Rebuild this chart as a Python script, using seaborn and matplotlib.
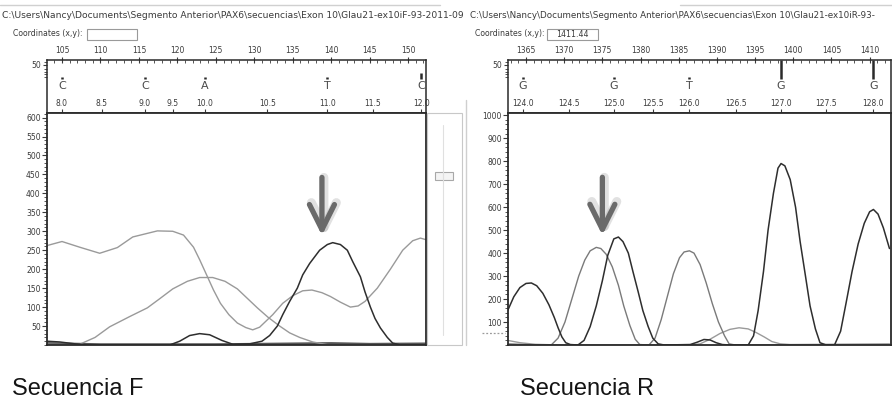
import numpy as np
import pandas as pd
import matplotlib
matplotlib.use("Agg")
import matplotlib.pyplot as plt
import seaborn as sns
from matplotlib.patches import Rectangle
from matplotlib.lines import Line2D
from matplotlib.ticker import MultipleLocator, FixedLocator

# ------------------------------------------------------------------ data
f_title = r"C:\Users\Nancy\Documents\Segmento Anterior\PAX6\secuencias\Exon 10\Glau21-ex10iF-93-2011-09"
r_title = r"C:\Users\Nancy\Documents\Segmento Anterior\PAX6\secuencias\Exon 10\Glau21-ex10iR-93-"
coord_label = "Coordinates (x,y):"
f_coord = ""
r_coord = "1411.44"
panel_labels = ["Secuencia F", "Secuencia R"]

# forward panel
f_bases = ["C", "C", "A", "T", "C"]
f_base_scan = [105.0, 115.8, 123.6, 139.5, 151.7]
f_base_mark = [37.5, 37.5, 37.5, 37.5, 42.0]
f_num_scan = [105.0, 110.2, 115.8, 119.4, 123.6, 131.7, 139.5, 145.4, 151.7]
f_num_labels = ["8.0", "8.5", "9.0", "9.5", "10.0", "10.5", "11.0", "11.5", "12.0"]

f_a_scan = [103.0, 105.0, 107.3, 109.9, 112.2, 114.2, 117.4, 119.4, 120.8, 122.1, 122.9, 123.8,
            124.7, 125.6, 126.7, 127.8, 128.9, 129.8, 130.7, 132.4, 133.7, 135.0, 136.3, 137.5,
            138.8, 139.9, 141.2, 142.5, 143.5, 144.4, 146.0, 147.7, 149.3, 150.6, 151.6, 152.3]
f_a_sig = [262, 273, 258, 242, 257, 285, 301, 300, 290, 258, 225, 185,
           145, 110, 80, 58, 46, 40, 47, 80, 110, 130, 143, 145,
           138, 128, 113, 100, 103, 115, 150, 200, 250, 275, 282, 278]

f_b_scan = [103.0, 106.0, 107.3, 109.3, 111.2, 113.8, 116.1, 117.7, 119.4, 121.3, 122.9, 124.6,
            126.2, 127.8, 129.1, 130.4, 131.8, 133.3, 134.6, 135.9, 137.6, 139.5, 141.2, 152.3]
f_b_sig = [2, 1, 2, 20, 48, 75, 98, 122, 148, 168, 178, 178,
           168, 148, 123, 98, 73, 50, 32, 20, 8, 1, 0, 0]

f_c_scan = [103.0, 104.7, 106.7, 108.6, 119.0, 120.3, 121.6, 122.9, 124.2, 125.8, 127.2, 129.4,
            131.0, 132.0, 133.0, 133.7, 134.6, 135.6, 136.3, 137.2, 138.5, 139.5, 140.2, 141.2,
            142.1, 142.8, 143.8, 144.4, 145.1, 145.7, 146.4, 147.3, 148.0, 149.0, 152.3]
f_c_sig = [10, 8, 3, 0, 0, 10, 25, 30, 27, 12, 2, 3,
           10, 25, 50, 80, 115, 150, 185, 215, 250, 265, 270, 265,
           250, 220, 180, 140, 100, 70, 45, 20, 5, 0, 0]

f_d_scan = [103.0, 110.0, 125.0, 135.0, 140.0, 145.0, 152.3]
f_d_sig = [4, 1, 1, 3, 4, 2, 3]

f_arrow = dict(scan=138.8, start=442, end=289)

# reverse panel
r_bases = ["G", "G", "T", "G", "G"]
r_base_scan = [1364.6, 1376.5, 1386.4, 1398.4, 1410.5]
r_base_mark = [37.5, 37.5, 37.5, 55.0, 55.0]
r_num_scan = [1364.6, 1370.6, 1376.5, 1381.6, 1386.4, 1392.5, 1398.4, 1404.3, 1410.5]
r_num_labels = ["124.0", "124.5", "125.0", "125.5", "126.0", "126.5", "127.0", "127.5", "128.0"]

r_k_scan = [1362.6, 1363.4, 1364.2, 1365.0, 1365.7, 1366.4, 1367.2, 1368.0, 1368.7, 1369.2,
            1369.7, 1370.2, 1370.8, 1371.8, 1372.6, 1373.4, 1374.2, 1375.0, 1375.7, 1376.5,
            1377.1, 1377.7, 1378.4, 1379.0, 1379.7, 1380.3, 1381.0, 1381.6, 1382.3, 1383.1,
            1386.5, 1387.4, 1388.3, 1389.1, 1389.9, 1390.7, 1391.7, 1394.1, 1394.8, 1395.4,
            1396.1, 1396.7, 1397.4, 1398.0, 1398.4, 1398.9, 1399.6, 1400.3, 1400.9, 1401.6,
            1402.2, 1402.9, 1403.5, 1404.3, 1405.4, 1406.2, 1406.9, 1407.7, 1408.5, 1409.3,
            1410.0, 1410.5, 1411.1, 1411.8, 1412.6]
r_k_sig = [150, 210, 250, 268, 270, 258, 225, 175, 120, 75,
           35, 10, 2, 0, 20, 80, 170, 280, 390, 462,
           470, 450, 400, 320, 230, 150, 80, 30, 5, 0,
           2, 12, 24, 22, 10, 2, 0, 0, 40, 150,
           320, 500, 660, 770, 790, 780, 720, 600, 450, 300,
           170, 70, 10, 0, 0, 60, 180, 320, 440, 530,
           580, 590, 570, 510, 420]

r_t_scan = [1362.6, 1366.8, 1368.3, 1369.2, 1370.1, 1371.0, 1371.9, 1372.7, 1373.4, 1374.2,
            1374.8, 1375.5, 1376.3, 1377.1, 1377.8, 1378.6, 1379.3, 1379.9, 1381.1, 1381.9,
            1382.7, 1383.5, 1384.3, 1385.1, 1385.7, 1386.4, 1387.0, 1387.8, 1388.6, 1389.4,
            1390.2, 1391.0, 1391.6, 1392.4, 1412.6]
r_t_sig = [5, 0, 0, 30, 100, 200, 300, 370, 410, 425,
           420, 395, 340, 260, 170, 85, 25, 2, 0, 30,
           110, 210, 310, 380, 405, 410, 400, 350, 270, 180,
           100, 40, 5, 0, 0]

r_a_scan = [1362.6, 1364.2, 1366.2, 1369.5, 1386.5, 1387.8, 1389.1, 1390.4, 1391.7, 1392.9,
            1394.1, 1395.1, 1396.2, 1397.2, 1398.3, 1399.6, 1412.6]
r_a_sig = [20, 10, 3, 0, 0, 5, 25, 50, 68, 75, 70, 55, 35, 15, 5, 2, 5]

r_arrow = dict(scan=1375.0, start=730, end=478)

# ------------------------------------------------------------------ style
sns.set_theme(style="white")
plt.rcParams["font.family"] = ["DejaVu Sans"]

W, H = 892, 400
fig = plt.figure(figsize=(W / 100, H / 100), dpi=100)
fig.patch.set_facecolor("white")


def fx(x):
    return x / W


def fy(y):
    return 1 - y / H


def add_ax(x0, y0, x1, y1):
    return fig.add_axes([x0 / W, 1 - y1 / H, (x1 - x0) / W, (y1 - y0) / H])


def frect(x0, y0, x1, y1, **kw):
    fig.add_artist(Rectangle((fx(x0), fy(y1)), (x1 - x0) / W, (y1 - y0) / H,
                             transform=fig.transFigure, **kw))


def fline(xs, ys, **kw):
    fig.add_artist(Line2D([fx(x) for x in xs], [fy(y) for y in ys],
                          transform=fig.transFigure, **kw))


TXT = "#3a3a3a"
SPINE = "#2a2a2a"


def ruler(box, xlim, major, minor, bases, base_scan, base_mark, num_scan, num_labels):
    ax = add_ax(*box)
    ax.set_xlim(*xlim)
    ax.set_ylim(0, 55)
    for s in ax.spines.values():
        s.set_color(SPINE)
        s.set_linewidth(1.1)
    ax.xaxis.set_ticks_position("top")
    ax.xaxis.set_label_position("top")
    ax.xaxis.set_major_locator(MultipleLocator(major))
    ax.xaxis.set_minor_locator(MultipleLocator(minor))
    ax.tick_params(axis="x", which="major", direction="inout", length=5, width=0.8,
                   colors=TXT, labelsize=5.5, pad=1)
    ax.tick_params(axis="x", which="minor", direction="in", length=2.5, width=0.6,
                   colors=TXT)
    ax.yaxis.set_ticks_position("left")
    ax.set_yticks([50])
    ax.set_yticklabels(["50"])
    ax.yaxis.set_minor_locator(FixedLocator([37, 40, 43, 46, 53]))
    ax.tick_params(axis="y", which="major", direction="out", length=3, width=0.8,
                   colors=TXT, labelsize=5.5, pad=1)
    ax.tick_params(axis="y", which="minor", direction="out", length=2, width=0.6,
                   colors=TXT)
    ax.set_xlabel("")
    ax.set_ylabel("")
    for b, x in zip(bases, base_scan):
        ax.text(x, 28, b, ha="center", va="center", fontsize=8, color="#4a4a4a")
    ax.vlines(base_scan, 35.5, base_mark, colors="#2a2a2a", linewidth=1.8)
    sec = ax.secondary_xaxis("bottom")
    sec.set_xticks(num_scan)
    sec.set_xticklabels(num_labels)
    sec.tick_params(axis="x", direction="in", length=3, width=0.8, colors=TXT,
                    labelsize=5.5, pad=-10)
    sec.spines["bottom"].set_visible(False)
    ax.set_facecolor("white")
    return ax


def main(box, xlim, ylim, ystep, yminor, traces, arrow):
    ax = add_ax(*box)
    for df, col, lw in traces:
        sns.lineplot(data=df, x="scan", y="signal", ax=ax, color=col, linewidth=lw,
                     estimator=None, sort=False, legend=False)
    ax.set_xlim(*xlim)
    ax.set_ylim(*ylim)
    ax.set_xticks([])
    ax.set_xlabel("")
    ax.set_ylabel("")
    ax.yaxis.set_major_locator(FixedLocator(list(range(ystep, int(ylim[1]), ystep))))
    ax.yaxis.set_minor_locator(MultipleLocator(yminor))
    ax.tick_params(axis="y", which="major", direction="out", length=3.5, width=0.8,
                   colors=TXT, labelsize=5.5, pad=1, left=True)
    ax.tick_params(axis="y", which="minor", direction="out", length=2, width=0.6,
                   colors=TXT, left=True)
    for s in ax.spines.values():
        s.set_color(SPINE)
        s.set_linewidth(1.3)
    # soft drop shadow, then the arrow itself
    ax.annotate("", xy=(arrow["scan"] + 0.25, arrow["end"] - 6),
                xytext=(arrow["scan"] + 0.25, arrow["start"]),
                arrowprops=dict(arrowstyle="->,head_length=0.9,head_width=0.45",
                                color="#aaaaaa", lw=6.5, alpha=0.35,
                                mutation_scale=20, shrinkA=0, shrinkB=0))
    ax.annotate("", xy=(arrow["scan"], arrow["end"]), xytext=(arrow["scan"], arrow["start"]),
                arrowprops=dict(arrowstyle="->,head_length=0.9,head_width=0.45",
                                color="#6a6a6a", lw=3.8, mutation_scale=20,
                                shrinkA=0, shrinkB=0))
    return ax


def frame(scan, sig):
    return pd.DataFrame({"scan": scan, "signal": sig})


LIGHT = "#9a9a9a"
MID = "#7a7a7a"
DARK = "#2e2e2e"

# ---------------- left (forward)
ruler((47, 60, 426, 113), (103.05, 152.33), 5, 1, f_bases, f_base_scan, f_base_mark,
      f_num_scan, f_num_labels)
main((47, 113, 426, 345), (103.05, 152.33), (0, 612), 50, 10,
     [(frame(f_d_scan, f_d_sig), "#555555", 2.0),
      (frame(f_a_scan, f_a_sig), LIGHT, 1.0),
      (frame(f_b_scan, f_b_sig), LIGHT, 1.0),
      (frame(f_c_scan, f_c_sig), DARK, 1.1)],
     f_arrow)

# ---------------- right (reverse)
ruler((508, 60, 891, 113), (1362.64, 1412.8), 5, 1, r_bases, r_base_scan, r_base_mark,
      r_num_scan, r_num_labels)
main((508, 113, 891, 345), (1362.64, 1412.8), (0, 1010), 100, 20,
     [(frame(r_a_scan, r_a_sig), LIGHT, 1.0),
      (frame(r_t_scan, r_t_sig), MID, 1.0),
      (frame(r_k_scan, r_k_sig), DARK, 1.1)],
     r_arrow)

# ---------------- window chrome
fline([0, 440], [5, 5], color="#d0d0d0", lw=1)
fline([680, 892], [5, 5], color="#d0d0d0", lw=1)
fig.text(fx(2), fy(15), f_title, fontsize=6.6, color=TXT, va="center", ha="left")
fig.text(fx(470), fy(15), r_title, fontsize=6.35, color=TXT, va="center", ha="left",
         bbox=dict(facecolor="white", edgecolor="none", pad=1))
fig.text(fx(13), fy(34), coord_label, fontsize=5.6, color=TXT, va="center")
frect(87, 29, 137, 40, facecolor="white", edgecolor="#9a9a9a", lw=0.8)
fig.text(fx(475), fy(34), coord_label, fontsize=5.6, color=TXT, va="center")
frect(547, 29, 598, 40, facecolor="white", edgecolor="#9a9a9a", lw=0.8)
fig.text(fx(572), fy(34.5), r_coord, fontsize=5.6, color=TXT, va="center", ha="center")

# scroll bar between the panels
frect(427, 113, 462, 345, facecolor="white", edgecolor="#c8c8c8", lw=0.8)
fline([443, 443], [125, 335], color="#e0e0e0", lw=0.8)
frect(435, 172, 453, 180, facecolor="#f4f4f4", edgecolor="#a8a8a8", lw=0.8)
fline([466, 466], [100, 345], color="#cfcfcf", lw=1.0)
fline([482, 505], [333, 333], color="#9a9a9a", lw=0.9, ls=(0, (1.5, 1.5)))

# panel captions
fig.text(fx(12), fy(395), panel_labels[0], fontsize=17, color="#141414",
         family=["Liberation Sans", "DejaVu Sans"], va="baseline", ha="left")
fig.text(fx(520), fy(395), panel_labels[1], fontsize=17, color="#141414",
         family=["Liberation Sans", "DejaVu Sans"], va="baseline", ha="left")

fig.savefig("out.png", dpi=100)
